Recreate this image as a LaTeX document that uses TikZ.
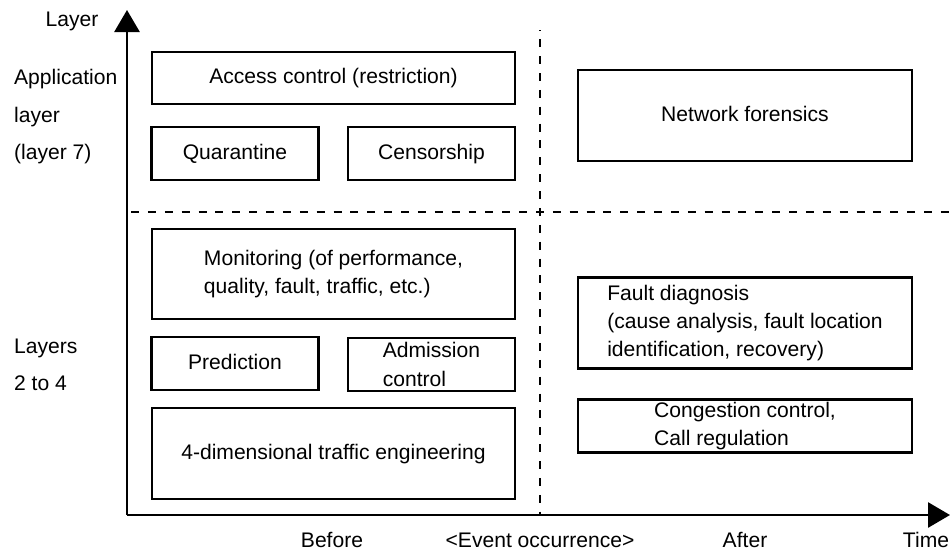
\documentclass[tikz,border=0pt]{standalone}
\usepackage{fontspec}
\setmainfont{Liberation Sans}
\usepackage{tikz}
\usetikzlibrary{arrows.meta,shapes,backgrounds}

\begin{document}
\begin{tikzpicture}[x=0.03cm,y=-0.03cm,>={Triangle[length=0.66cm,width=0.75cm]},
    font=\fontsize{18}{24}\selectfont]
  \tikzstyle{box}=[draw,line width=2pt,align=left,inner sep=0pt]
  \tikzstyle{one line}=[text height=1em,text depth=0.05em]
  \tikzstyle{wide box}=[box,minimum width=10.89cm]
  \tikzstyle{half box}=[box,one line,minimum width=5cm,minimum height=1.59cm]
  \tikzstyle{after box}=[box,minimum width=10.02cm]
  \tikzstyle{axis}=[line width=2.4pt]
  \tikzstyle{divider}=[line width=2pt,dash pattern=on 6.8pt off 7.6pt]
  \tikzstyle{side label}=[anchor=west,align=left,font=\fontsize{18}{32}\selectfont]
  \tikzstyle{time label}=[anchor=base,inner sep=0pt]
  \useasboundingbox (0,0) rectangle (950,550);

  \coordinate (o) at (127,515);
  \coordinate (ytop) at (127,10);
  \coordinate (xend) at (950,515);
  \coordinate (hl) at (127,212);
  \coordinate (hr) at (950,212);
  \coordinate (vt) at (540,30);
  \coordinate (vb) at (540,515);

  \draw [divider,dash phase=10.9pt] (hl) -- (hr);
  \draw [divider,dash phase=6.5pt] (vt) -- (vb);
  \draw [axis,->] (o) -- (ytop);
  \draw [axis,->] (o) -- (xend);

  \node [wide box,one line,minimum height=1.56cm] (access) at (333.5,78) {Access control (restriction)};
  \node [half box] (quar) at (235,153.5) {Quarantine};
  \node [half box] (cens) at (431.5,153.5) {Censorship};
  \node [after box,one line,minimum height=2.73cm] (forens) at (745,115.5) {Network forensics};

  \node [wide box,minimum height=2.7cm] (monit) at (333.5,274) {Monitoring (of performance,\\quality, fault, traffic, etc.)};
  \node [half box] (pred) at (235,363.5) {Prediction};
  \node [box,minimum width=5cm,minimum height=1.59cm] (admis) at (431.5,364.5) {Admission\\control};
  \node [wide box,one line,minimum height=2.73cm] (traffic) at (333.5,453.5) {4-dimensional traffic engineering};
  \node [after box,minimum height=2.73cm] (fault) at (745,323) {Fault diagnosis\\(cause analysis, fault location\\identification, recovery)};
  \node [after box,minimum height=1.59cm] (congest) at (745,426) {Congestion control,\\Call regulation};

  \node (ylab) at (72,21) {Layer};
  \node [side label] (applab) at (10,117) {Application\\layer\\(layer 7)};
  \node [side label] (netlab) at (10,365) {Layers\\2 to 4};

  \node [time label] (before) at (332,547) {Before};
  \node [time label] (event) at (540,547) {<Event occurrence>};
  \node [time label] (after) at (745,547) {After};
  \node [time label] (time) at (926,547) {Time};
\end{tikzpicture}
\end{document}
